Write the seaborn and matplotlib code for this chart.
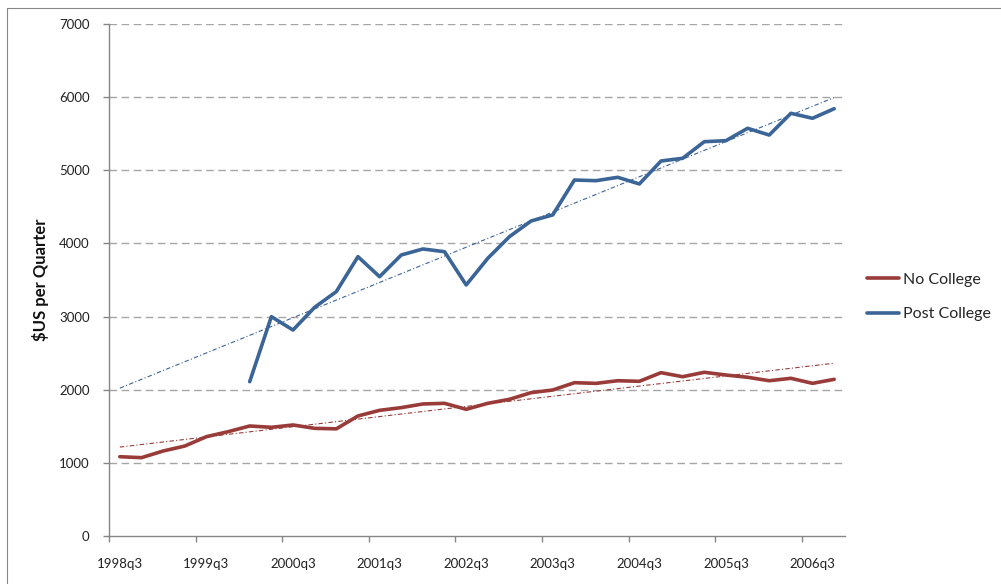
"""Quarterly earnings by education group, with linear trend lines."""

import numpy as np
import pandas as pd
import matplotlib
matplotlib.use('Agg')
import matplotlib.pyplot as plt
import seaborn as sns

quarters = ['1998q3', '1998q4', '1999q1', '1999q2', '1999q3', '1999q4',
            '2000q1', '2000q2', '2000q3', '2000q4', '2001q1', '2001q2',
            '2001q3', '2001q4', '2002q1', '2002q2', '2002q3', '2002q4',
            '2003q1', '2003q2', '2003q3', '2003q4', '2004q1', '2004q2',
            '2004q3', '2004q4', '2005q1', '2005q2', '2005q3', '2005q4',
            '2006q1', '2006q2', '2006q3', '2006q4']

no_college = [1084, 1071, 1162, 1230, 1358, 1426, 1504, 1486, 1518, 1472,
              1465, 1641, 1718, 1755, 1805, 1814, 1732, 1814, 1869, 1960,
              1996, 2096, 2087, 2123, 2115, 2233, 2178, 2238, 2201, 2170,
              2123, 2156, 2087, 2142]

post_college = [np.nan, np.nan, np.nan, np.nan, np.nan, np.nan,
                2110, 2999, 2816, 3127, 3341, 3819, 3545, 3842, 3924, 3887,
                3432, 3797, 4093, 4307, 4390, 4867, 4858, 4904, 4813, 5127,
                5164, 5391, 5405, 5574, 5482, 5779, 5711, 5842]

series_names = ['No College', 'Post College']
colors = {'No College': '#993B38', 'Post College': '#3B6497'}
y_ticks = [0, 1000, 2000, 3000, 4000, 5000, 6000, 7000]

sns.set_theme(style='white')
plt.rcParams['font.family'] = ['Lato', 'DejaVu Sans']

x_idx = np.arange(len(quarters))
df = pd.DataFrame({
    'x': np.concatenate([x_idx, x_idx]),
    'value': no_college + post_college,
    'group': ['No College'] * len(quarters) + ['Post College'] * len(quarters),
}).dropna()

fig = plt.figure(figsize=(10.01, 5.84), dpi=100)
ax = fig.add_axes([109 / 1001, 48 / 584, 736 / 1001, 512 / 584])

# gridlines first so data sits on top
for yv in y_ticks[1:]:
    ax.axhline(yv, color='#A6A6A6', lw=1.0, ls=(0, (5.5, 3.2)), zorder=0)

# linear trend lines across the whole category range
for name in series_names:
    sub = df[df['group'] == name]
    slope, icpt = np.polyfit(sub['x'], sub['value'], 1)
    ax.plot(x_idx, icpt + slope * x_idx, color=colors[name], lw=0.8,
            ls=(0, (4, 2, 1, 2)), zorder=1)

sns.lineplot(data=df, x='x', y='value', hue='group', hue_order=series_names,
             palette=colors, lw=2.6, ax=ax, zorder=3,
             solid_joinstyle='round', solid_capstyle='round')

ax.set_xlim(-0.5, len(quarters) - 0.5)
ax.set_ylim(0, 7000)
ax.set_yticks(y_ticks)
ax.set_yticklabels([str(v) for v in y_ticks])

# labels on every 4th category, tick marks on category boundaries
ax.set_xticks(x_idx[::4])
ax.set_xticklabels(quarters[::4])
ax.set_xticks(np.arange(-0.5, len(quarters) - 0.5, 4), minor=True)
ax.tick_params(axis='x', which='major', length=0, pad=16, labelsize=9.5,
               labelcolor='#222222')
ax.tick_params(axis='x', which='minor', bottom=True, length=4,
               color='#868686', width=1)
ax.tick_params(axis='y', left=True, length=4, color='#868686', width=1,
               pad=10, labelsize=9.5, labelcolor='#222222')

ax.set_xlabel('')
ax.set_ylabel('$US per Quarter', fontsize=12, fontweight='bold',
              labelpad=7, color='#111111')

for side in ['top', 'right']:
    ax.spines[side].set_visible(False)
for side in ['left', 'bottom']:
    ax.spines[side].set_color('#868686')
    ax.spines[side].set_linewidth(1)

handles, labels = ax.get_legend_handles_labels()
ax.legend(handles, labels, loc='center left', frameon=False,
          bbox_to_anchor=(867 / 1001, 1 - 297 / 584),
          bbox_transform=fig.transFigure, fontsize=11.5, handlelength=2.0,
          handletextpad=0.25, labelspacing=1.25, borderpad=0,
          borderaxespad=0)

# chart area border (left and top edges visible in the crop)
fig.add_artist(plt.Line2D([6.5 / 1001, 6.5 / 1001], [0, 1 - 8 / 584],
                          color='#868686', lw=0.8, transform=fig.transFigure))
fig.add_artist(plt.Line2D([6.5 / 1001, 1], [1 - 8 / 584, 1 - 8 / 584],
                          color='#868686', lw=0.8, transform=fig.transFigure))

fig.savefig('out.png', dpi=100)
